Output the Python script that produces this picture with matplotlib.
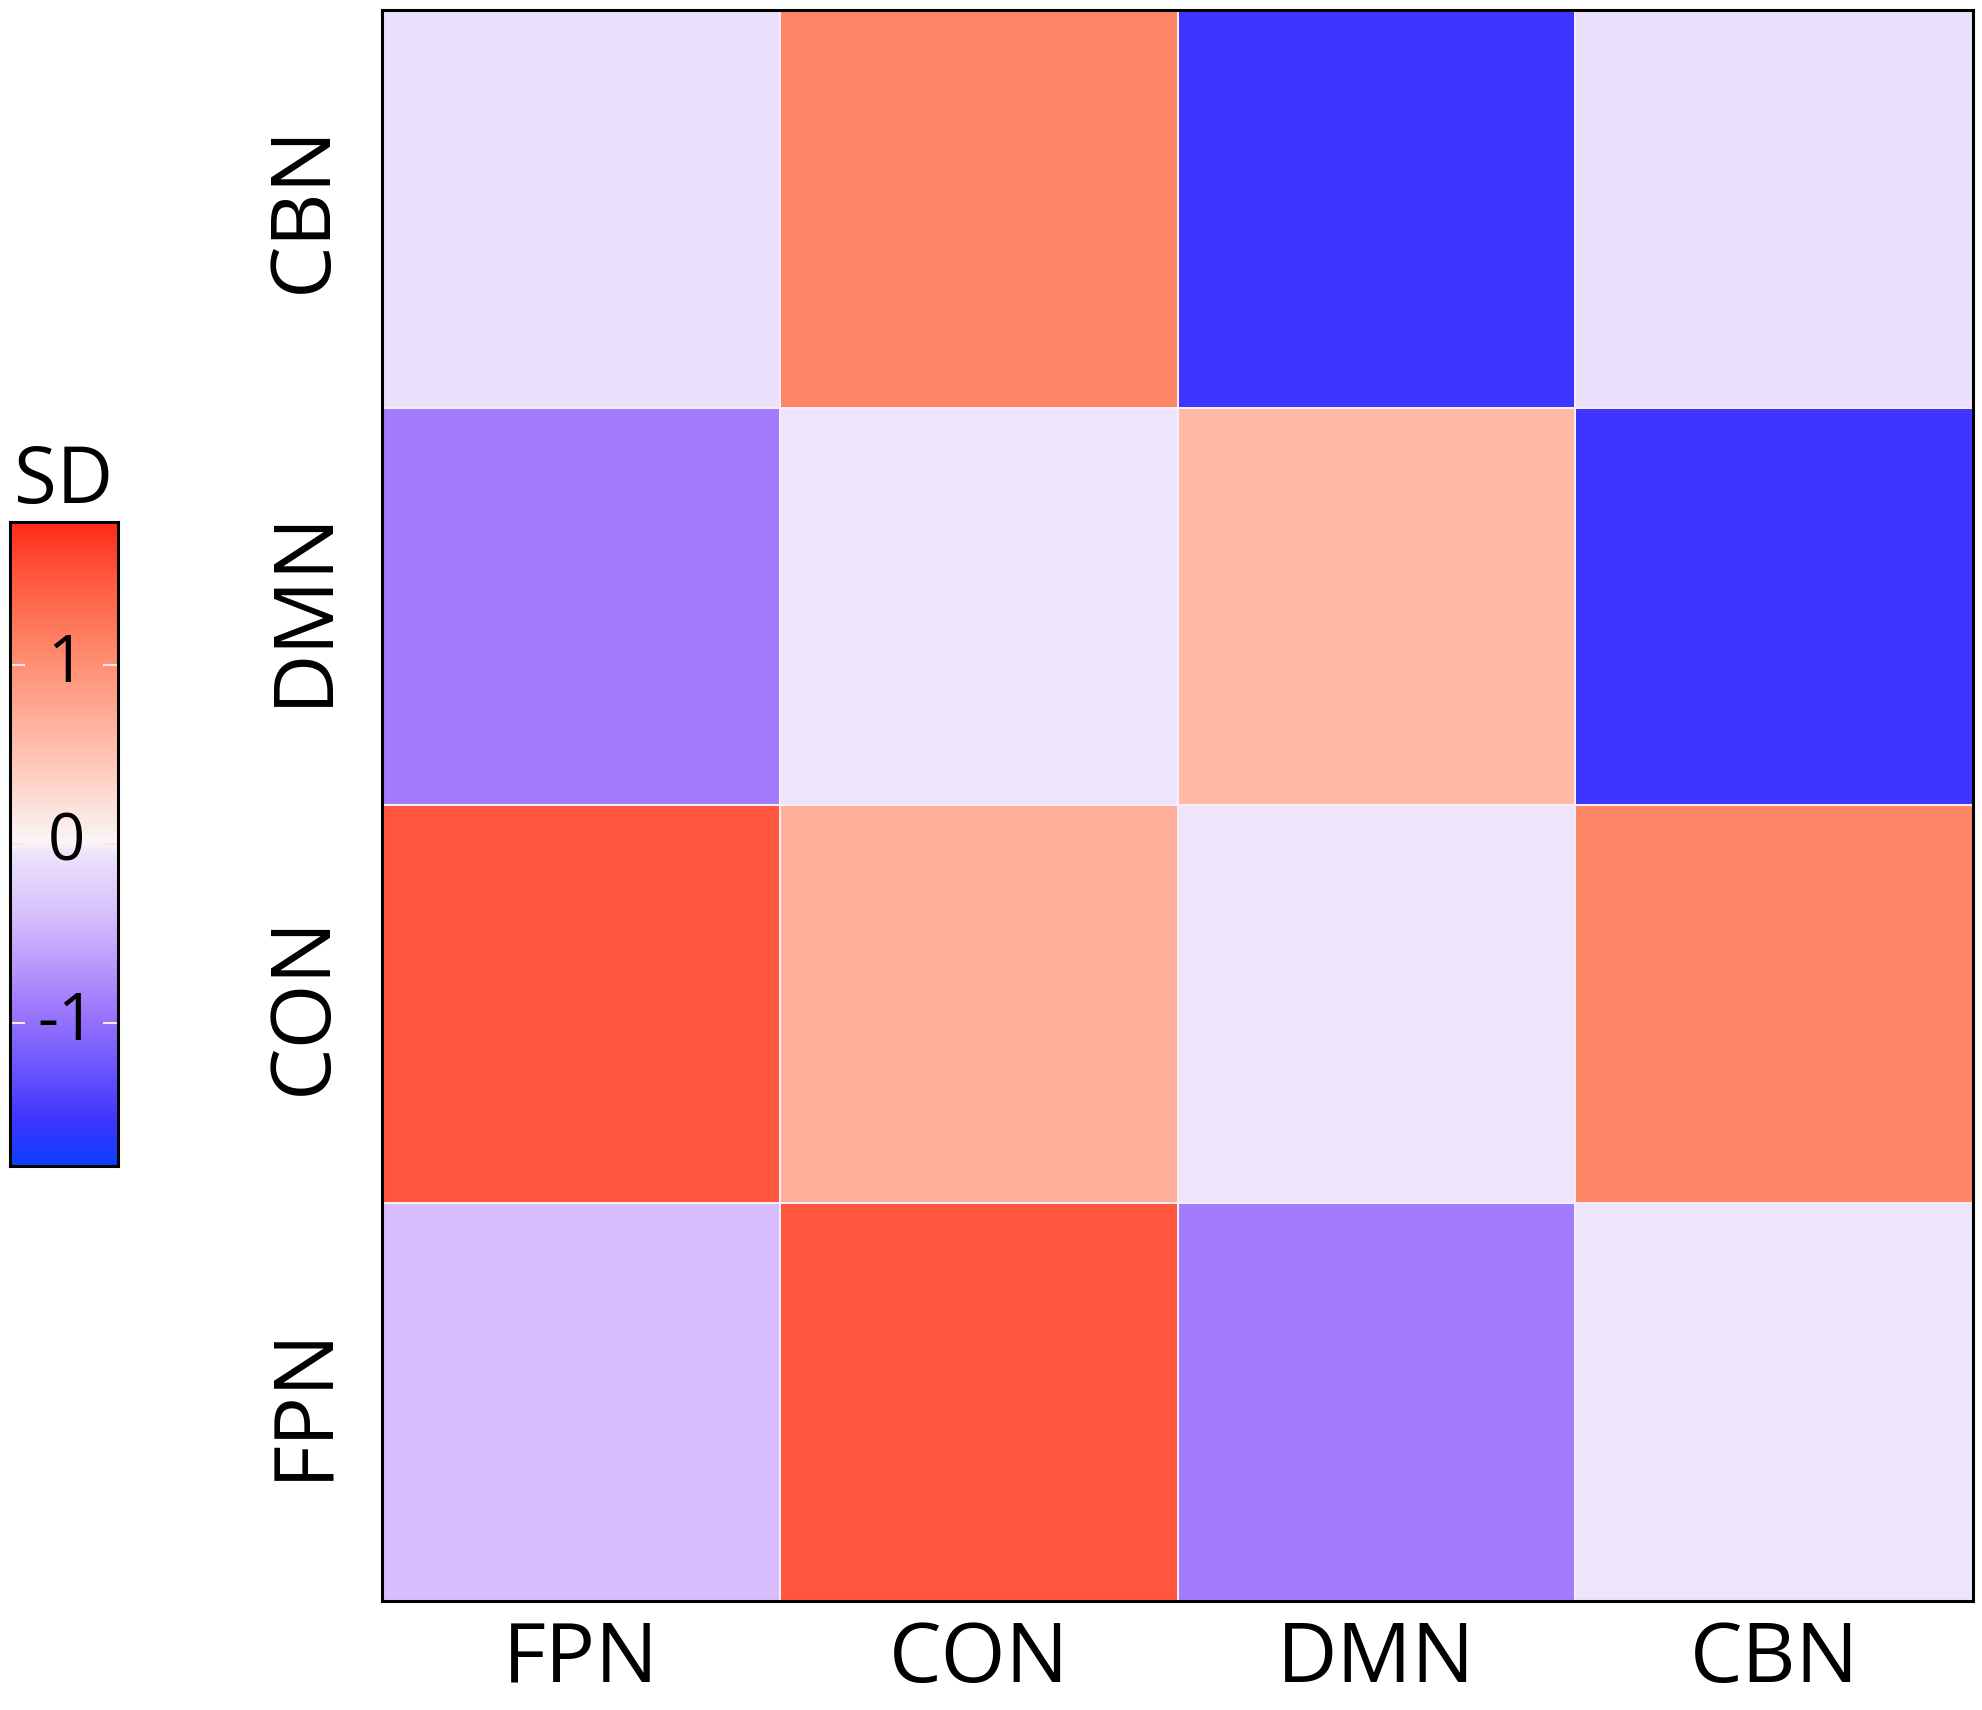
import numpy as np
import matplotlib
matplotlib.use("Agg")
import matplotlib.pyplot as plt
from matplotlib.colors import LinearSegmentedColormap, Normalize

plt.rcParams['font.family'] = ['Open Sans', 'DejaVu Sans']

networks = ["FPN", "CON", "DMN", "CBN"]
# rows listed bottom -> top (FPN, CON, DMN, CBN), columns FPN, CON, DMN, CBN
row_fpn = [-0.40, 1.50, -0.90, -0.05]
row_con = [1.50, 0.70, -0.05, 1.10]
row_dmn = [-0.90, -0.05, 0.60, -1.55]
row_cbn = [-0.08, 1.10, -1.55, -0.08]
cbar_ticks = [-1, 0, 1]

vmin, vmax = -1.8, 1.8
nodes = [(-1.8, "#0a40ff"), (-1.55, "#4035ff"), (-0.9, "#a27cfc"),
         (-0.4, "#d6bffc"), (-0.05, "#eee4fc"), (0.0, "#fbf6f8"),
         (0.6, "#ffb9a5"), (1.1, "#ff8668"), (1.5, "#ff573d"), (1.8, "#ff2a18")]
cmap = LinearSegmentedColormap.from_list(
    "sd", [((v - vmin) / (vmax - vmin), c) for v, c in nodes])
norm = Normalize(vmin, vmax)

data = np.array([row_fpn, row_con, row_dmn, row_cbn])

fig = plt.figure(figsize=(19.83, 17.10), dpi=100)
ax = fig.add_axes([0.1926, 0.0637, 0.8024, 0.9305])
ax.pcolormesh(data, cmap=cmap, norm=norm, edgecolor="#f4eef6", linewidth=1.2)
ax.set_xlim(0, 4)
ax.set_ylim(0, 4)
ax.set_xticks(np.arange(4) + 0.5)
ax.set_xticklabels(networks, fontsize=60)
ax.set_yticks(np.arange(4) + 0.5)
ax.set_yticklabels(networks, fontsize=60, rotation=90, va="center")
ax.tick_params(length=0)
ax.tick_params(axis="x", pad=13)
ax.tick_params(axis="y", pad=26)
for s in ax.spines.values():
    s.set_linewidth(2.2)

# colorbar
cax = fig.add_axes([0.005, 0.318, 0.0545, 0.377])
grad = np.linspace(vmin, vmax, 256).reshape(-1, 1)
cax.imshow(grad, cmap=cmap, norm=norm, aspect="auto", origin="lower",
           extent=[0, 1, vmin, vmax])
cax.set_xlim(0, 1)
cax.set_ylim(vmin, vmax)
cax.set_xticks([])
cax.set_yticks(cbar_ticks)
cax.set_yticklabels([])
cax.tick_params(axis="y", direction="in", left=True, right=True,
                length=11, width=1.5, color="#f8e8e4")
for t in cbar_ticks:
    cax.text(0.52, t, str(t), ha="center", va="center",
             fontsize=47, color="black")
for s in cax.spines.values():
    s.set_linewidth(2.2)
cax.set_title("SD", fontsize=56, pad=2)

fig.savefig("out.png", dpi=100)
